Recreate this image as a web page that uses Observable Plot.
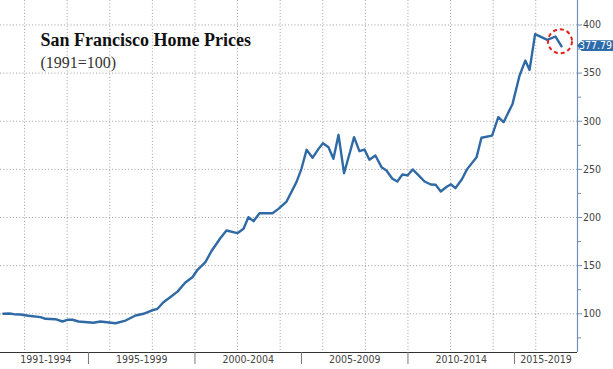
<!DOCTYPE html>
<html>
<head>
<meta charset="utf-8">
<script src="https://cdn.jsdelivr.net/npm/d3@7"></script>
<script src="https://cdn.jsdelivr.net/npm/@observablehq/plot@0.6"></script>
<style>
  html, body { margin: 0; padding: 0; background: #fff; }
  #wrap { position: relative; width: 613px; height: 369px; }
  .tag {
    position: absolute; height: 11px; width: 36px;
    background: #2e6bab; color: #fff;
    font: 10.5px "Liberation Sans Narrow", "DejaVu Sans Condensed", sans-serif;
    line-height: 11px; text-align: right; padding-right: 1px; box-sizing: border-box;
    clip-path: polygon(0 50%, 5px 0, 100% 0, 100% 100%, 5px 100%);
  }
</style>
</head>
<body>
<div id="wrap"></div>
<script>
// Data (decimal year, index 1991=100)
const years = [1991.0, 1991.29, 1991.5, 1991.81, 1992.18, 1992.75, 1992.98, 1993.45, 1993.78, 1994.01,
  1994.25, 1994.53, 1995.23, 1995.56, 1996.27, 1996.74, 1997.21, 1997.58, 1997.96, 1998.24,
  1998.52, 1998.85, 1999.18, 1999.55, 1999.88, 2000.12, 2000.49, 2000.77, 2001.19, 2001.48,
  2001.99, 2002.28, 2002.51, 2002.75, 2003.03, 2003.64, 2003.92, 2004.30, 2004.77, 2005.00,
  2005.24, 2005.52, 2005.80, 2006.01, 2006.27, 2006.50, 2006.74, 2007.00, 2007.30, 2007.47,
  2007.72, 2007.96, 2008.19, 2008.47, 2008.76, 2008.99, 2009.27, 2009.50, 2009.74, 2009.98,
  2010.22, 2010.50, 2010.78, 2011.07, 2011.30, 2011.54, 2011.82, 2012.02, 2012.23, 2012.54,
  2012.77, 2013.22, 2013.45, 2013.95, 2014.24, 2014.49, 2014.91, 2015.24, 2015.51, 2015.71,
  2015.97, 2016.54, 2016.93, 2017.21];
const values = [100.0, 100.3, 99.6, 99.3, 98.0, 96.5, 94.8, 94.4, 92.0, 93.8,
  93.8, 92.0, 90.7, 92.0, 90.2, 93.0, 98.2, 100.0, 103.4, 105.2,
  112.0, 117.5, 123.0, 132.5, 138.0, 145.7, 153.6, 165.0, 178.5, 186.5,
  183.7, 188.3, 200.3, 196.2, 204.5, 204.5, 209.0, 216.6, 237.0, 250.6,
  270.3, 262.0, 271.3, 277.2, 273.0, 261.0, 285.9, 246.0, 269.6, 283.5,
  268.9, 270.6, 260.0, 264.4, 252.3, 248.9, 240.2, 237.4, 244.7, 243.7,
  249.9, 243.7, 237.4, 234.3, 234.0, 227.0, 232.0, 234.5, 230.5, 240.0,
  250.0, 262.5, 282.8, 285.0, 304.2, 299.0, 318.0, 347.5, 363.0, 353.3,
  390.5, 384.5, 388.0, 377.79];

const yTicks = [100, 150, 200, 250, 300, 350, 400];
const yMinorTicks = [75, 125, 175, 225, 275, 325, 375];
const gridYears = [1992, 1994, 1996, 1998, 2000, 2002, 2004, 2006, 2008, 2010, 2012, 2014, 2016];
const groupLabels = ["1991-1994", "1995-1999", "2000-2004", "2005-2009", "2010-2014", "2015-2019"];
const groupStarts = [1991, 1995, 2000, 2005, 2010, 2015];
const groupEnds = [1995, 2000, 2005, 2010, 2015, 2020];
const xDomain = [1990.87, 2017.96];
const yDomain = [59.8, 425.4];
const highlight = [{year: 2017.14, value: 383}];
const titleText = "San Francisco Home Prices";
const subtitleText = "(1991=100)";

const data = years.map((y, i) => ({year: y, value: values[i]}));
const lastValue = values[values.length - 1];
const separators = groupStarts.slice(1);
const centers = groupStarts.map((s, i) => (Math.max(s, xDomain[0]) + Math.min(groupEnds[i], xDomain[1])) / 2);
const centerLabel = new Map(centers.map((c, i) => [c, groupLabels[i]]));

const narrow = "'Liberation Sans Narrow', 'DejaVu Sans Condensed', sans-serif";

const chart = Plot.plot({
  width: 613,
  height: 369,
  marginLeft: 0,
  marginRight: 36,
  marginTop: 0,
  marginBottom: 17,
  style: {background: "#fff", fontFamily: narrow, fontSize: "10.5px", color: "#444"},
  x: {domain: xDomain},
  y: {domain: yDomain},
  marks: [
    Plot.gridX(gridYears, {stroke: "#888", strokeOpacity: 0.7, strokeDasharray: "1.2,2"}),
    Plot.gridY(yTicks, {stroke: "#888", strokeOpacity: 0.7, strokeDasharray: "1.2,2"}),
    Plot.ruleX([xDomain[1]], {stroke: "#6f8fba", strokeWidth: 1.2}),
    Plot.ruleY([yDomain[0]], {stroke: "#333", strokeWidth: 1}),
    Plot.axisY({anchor: "right", ticks: yTicks, tickSize: 4, tickPadding: 1.5, label: null,
      stroke: "#6f8fba", fill: "#444", fontFamily: narrow}),
    Plot.axisY({anchor: "right", ticks: yMinorTicks, tickSize: 3, tickFormat: () => "", label: null,
      stroke: "#6f8fba"}),
    Plot.axisX({ticks: separators, tickSize: 12, tickFormat: () => "", label: null, stroke: "#777"}),
    Plot.axisX({ticks: centers, tickSize: 0, tickPadding: 3, label: null,
      tickFormat: (d) => centerLabel.get(d), fill: "#444", fontFamily: narrow}),
    Plot.line(data, {x: "year", y: "value", stroke: "#2f6aa5", strokeWidth: 2.4, strokeLinejoin: "round"}),
    Plot.dot(highlight, {x: "year", y: "value", r: 12, stroke: "#e0231d", strokeWidth: 2,
      strokeDasharray: "4,3", fill: "none"}),
    Plot.text([titleText], {frameAnchor: "top-left", dx: 40, dy: 45, lineAnchor: "bottom", textAnchor: "start",
      fontFamily: "'Liberation Serif', 'Times New Roman', serif", fontWeight: "bold", fontSize: 18, fill: "#111"}),
    Plot.text([subtitleText], {frameAnchor: "top-left", dx: 40, dy: 67, lineAnchor: "bottom", textAnchor: "start",
      fontFamily: "'Liberation Serif', 'Times New Roman', serif", fontSize: 16, fill: "#333"})
  ]
});

const wrap = document.getElementById("wrap");
wrap.appendChild(chart);
const yScale = chart.scale("y");
const xScale = chart.scale("x");
const tag = document.createElement("div");
tag.className = "tag";
tag.textContent = lastValue.toFixed(2);
tag.style.left = (xScale.apply(xDomain[1])) + "px";
tag.style.top = (yScale.apply(lastValue) - 5.5) + "px";
wrap.appendChild(tag);
</script>
</body>
</html>
